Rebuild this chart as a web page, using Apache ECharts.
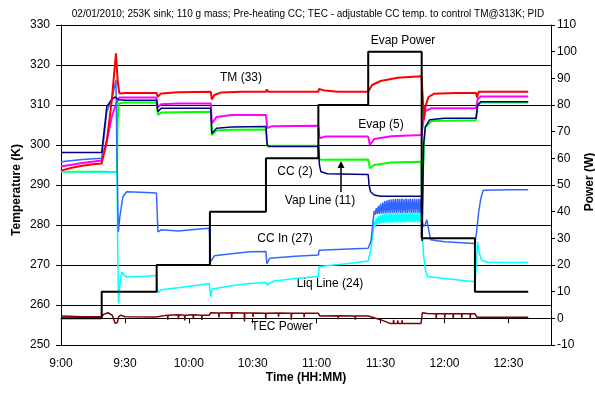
<!DOCTYPE html>
<html><head><meta charset="utf-8">
<script src="https://cdn.jsdelivr.net/npm/echarts@6/dist/echarts.min.js"></script>
<style>html,body{margin:0;padding:0;background:#fff}#c{width:595px;height:394px}</style>
</head><body><div id="c"></div>
<script>
// time in minutes after 9:00
const timeTickLabels = ['9:00','9:30','10:00','10:30','11:00','11:30','12:00','12:30'];

const evapPower = [[0,0],[19.1,10],[44.9,20],[69.9,40],[96.2,60],[120.8,80],[144.2,100],[169.3,30],[194.3,10],[219.3,10]];

const tmData = [[0,293.6],[5,294.3],[10,294.8],[15,295.2],[19.1,295.4],[21.5,301],[23.8,311],[25.8,322.9],[26.6,316],[27.4,312.9],[30,313],[44.8,313],[45.5,312.1],[47,312.9],[55,313.2],[70.3,313.3],[70.8,311.4],[72,312.5],[75,313.1],[85,313.3],[96.2,313.3],[96.6,313.9],[97.2,313.3],[110,313.3],[120.8,313.3],[121.1,314],[124,313.6],[130,313.3],[144.2,313.3],[146,315],[150,316],[158,316.8],[169.2,317.2],[169.8,312],[170.3,306.3],[171,309.5],[172.5,312],[175,312.8],[185,313],[194.8,313],[195.3,311.9],[196,313.3],[205,313.3],[219.3,313.3]];

const evapData = [[0,294.6],[10,295.5],[19.1,296.1],[21.5,301],[23.8,307],[26,310.5],[27.4,311.9],[30,311.9],[44.8,311.9],[45.5,309.4],[47,310.2],[55,310.4],[70.3,310.4],[70.8,305.4],[73,307],[80,307.5],[96.2,307.5],[96.8,304.2],[99,304.7],[120.8,304.8],[121.3,301.7],[124,302.1],[144.2,302.1],[145,300],[147,301.5],[155,302.2],[169.2,302.5],[170.1,306],[171,308.5],[174,309.2],[194.8,309.2],[195.6,311.5],[197,312.1],[219.3,312.1]];

const vapData = [[0,298.1],[19.1,298.1],[21.5,309.6],[23.8,311.4],[25.5,312],[27,311.3],[30,311.2],[44.8,311.2],[45.5,308.3],[47,309.2],[70.3,309.2],[70.8,302.9],[73,304.2],[80,304.5],[96.2,304.6],[96.8,300],[98,299.6],[120.8,299.6],[121.3,295],[122,293.3],[125,292.8],[144.2,292.6],[144.6,290],[145.3,288.3],[147,287.5],[150,287.2],[169.2,287.2],[169.5,276],[170.2,300],[171,304.5],[173,306.3],[180,306.7],[194.8,306.7],[195.6,310],[197,310.8],[219.3,310.8]];

const ccData = [[0,293.3],[10,293.3],[20,293.3],[26.3,293.2],[26.5,305],[27,310.4],[30,310.6],[44.8,310.6],[45.5,307.5],[47,308.1],[70.3,308.3],[70.8,302.5],[73,303.6],[80,303.8],[96.2,303.9],[96.8,299.6],[99,299.8],[120.8,299.8],[121.3,296.4],[124,296.3],[144.2,296.4],[145,294.2],[147,295],[155,295.6],[169.2,295.8],[169.5,285],[170.3,300],[171,304.5],[174,306],[194.8,306.2],[195.6,310],[197,310.6],[219.3,310.6]];

const ccInData = [[0,295.8],[10,296.4],[19.1,296.7],[21.5,308.3],[23.8,311.3],[25.8,316.2],[26.2,300],[26.9,278.3],[27.6,282],[29,287],[30.8,288.3],[40,288.1],[44.8,288],[45.5,278.3],[47,278.8],[55,278.5],[65,279],[69.6,279.2],[70.2,270.8],[72,272.3],[80,272.8],[88.7,273.3],[96.2,273.4],[96.6,270.3],[98,271.7],[110,272.2],[120.8,272.5],[121.2,273.7],[135,274],[144.2,274.2],[145.5,276],[146.5,281],
[147,283.5],[147.5,282.6],[148,284.2],[148.5,282.7],[149,284.8],[149.5,282.8],[150,285.3],[150.5,282.8],[151,285.7],[151.5,282.9],[152,286],[152.5,282.9],[153,286.2],[153.5,283],[154,286.3],[154.5,283],[155,286.4],[155.5,283],[156,286.5],[156.5,283],[157,286.5],[157.5,283],[158,286.6],[158.5,283.1],[159,286.5],[159.5,283],[160,286.6],[160.5,283.1],[161,286.5],[161.5,283],[162,286.6],[162.5,283],[163,286.5],[163.5,283.1],[164,286.6],[164.5,283],[165,286.5],[165.5,283],[166,286.6],[166.5,283.1],[167,286.5],[167.5,283],[168,286.6],[168.5,283],[169,286.4],
[169.5,281],[170.2,279.6],[171,280.2],[171.7,281.3],[172.5,279],[173.5,276.3],[180,275.8],[194.3,275.4],[195,278],[196,283],[197,286.5],[198.2,288.7],[210,288.8],[219.3,288.8]];

const liqData = [[0,293.3],[26.3,293.2],[26.6,275],[27,260.4],[27.8,266],[28.5,268.3],[29.5,267.5],[31,267],[40,267.2],[44.8,267.4],[45.5,263],[47,263.8],[55,264.3],[65,265],[69.6,265.4],[70.2,262.1],[71,264],[80,264.8],[88.7,265.4],[96.2,265.6],[96.6,265],[100,266],[110,266.6],[120.8,267.1],[121.2,269.6],[135,270.4],[144.2,271],[145.5,274],[146.5,278.5],
[147,281],[147.5,279.5],[148,281.8],[148.5,280],[149,282.2],[149.5,280.3],[150,282.5],[150.5,280.4],[151,282.7],[151.5,280.5],[152,282.8],[152.5,280.5],[153,282.9],[153.5,280.6],[154,283],[154.5,280.6],[155,283],[155.5,280.6],[156,283],[156.5,280.7],[157,283],[157.5,280.6],[158,283.1],[158.5,280.7],[159,283],[159.5,280.6],[160,283.1],[160.5,280.7],[161,283],[161.5,280.6],[162,283.1],[162.5,280.7],[163,283],[163.5,280.6],[164,283.1],[164.5,280.7],[165,283],[165.5,280.6],[166,283.1],[166.5,280.7],[167,283],[167.5,280.6],[168,283.1],[168.5,280.7],[169,283],
[169.5,279],[169.9,275],[170.3,272.1],[171,269],[172,267.1],[180,266.6],[194.3,265.8],[195,270],[195.5,275.8],[196.3,273],[197.5,271.2],[200,270.7],[219.3,270.6]];

const tecData = [[0,0.9],[10,0.6],[19.1,0.6],[20,1.5],[22,2.1],[24,1.2],[25.5,-1.9],[26.5,-1.5],[27,0.5],[28,1.2],[30,0.6],[44.8,0.5],[45.5,1.2],[50,1.2],[50.1,-0.5],[50.3,1.2],[55,1.3],[55.1,-0.3],[55.3,1.3],[58,1.2],[58.1,-0.8],[58.3,1.2],[62,1.3],[62.1,0],[62.3,1.3],[66,1.2],[66.1,-0.6],[66.3,1.2],[69.6,1.2],[70.2,2.1],[74,2],[74.1,0.3],[74.3,2],[80,2.1],[80.1,-0.2],[80.3,2.1],[86,2],[86.1,-1.2],[86.3,2],[90,2],[90.1,0.5],[90.3,2],[96,1.9],[96.1,-0.3],[96.3,1.9],[102,2],[102.1,0.6],[102.3,2],[108,1.9],[108.1,-0.5],[108.3,1.9],[114,1.9],[114.1,0.4],[114.3,1.9],[120.8,1.9],[121.5,0.9],[130,1],[130.1,-0.3],[130.3,1],[138,0.9],[138.1,-0.5],[138.3,0.9],[144.2,0.9],[150,-0.5],[154.4,-1.9],[156,-1.9],[156.1,-0.6],[156.3,-1.9],[158,-1.9],[158.1,-0.8],[158.3,-1.9],[160,-1.9],[160.1,-0.7],[160.3,-1.9],[169,-1.9],[169.6,2.1],[172,1.8],[176,1.7],[176.1,0],[176.3,1.7],[180,1.7],[180.1,0.2],[180.3,1.7],[184,1.7],[184.1,0],[184.3,1.7],[188,1.7],[188.1,0.2],[188.3,1.7],[192,1.7],[192.1,0.1],[192.3,1.7],[194.3,1.7],[195.3,0.4],[205,0.4],[219.3,0.4]];

const FONT = 'Liberation Sans';
const chart = echarts.init(document.getElementById('c'), null, {renderer:'canvas'});

function line(name, data, color, width, yIdx, step) {
  return {name, type:'line', data, yAxisIndex:yIdx, showSymbol:false, symbol:'none',
    step: step || false, lineStyle:{color, width}, itemStyle:{color}, animation:false, silent:true};
}

const txt = (x, y, s, opt) => Object.assign({type:'text', x, y, style:{text:s, font:'12px "'+FONT+'"', fill:'#000', align:'center', verticalAlign:'middle'}}, opt||{});

chart.setOption({
  animation:false,
  grid:{left:61, right:44, top:25, bottom:49, containLabel:false},
  xAxis:{type:'value', min:0, max:230, interval:30,
    axisLine:{lineStyle:{color:'#000', width:1}},
    axisTick:{show:true, length:5, lineStyle:{color:'#000'}},
    axisLabel:{color:'#000', fontFamily:FONT, fontSize:12, margin:13,
      formatter:v => timeTickLabels[Math.round(v/30)] !== undefined && v%30===0 ? timeTickLabels[v/30] : ''},
    splitLine:{show:false}},
  yAxis:[
    {type:'value', min:250, max:330, interval:10, position:'left',
      axisLine:{show:true, lineStyle:{color:'#000', width:1}},
      axisTick:{show:true, length:5, lineStyle:{color:'#000'}},
      axisLabel:{color:'#000', fontFamily:FONT, fontSize:12, margin:11},
      splitLine:{show:true, lineStyle:{color:'#000', width:1}}},
    {type:'value', min:-10, max:110, interval:10, position:'right',
      axisLine:{show:true, lineStyle:{color:'#000', width:1}},
      axisTick:{show:true, length:4, lineStyle:{color:'#000'}},
      axisLabel:{color:'#000', fontFamily:FONT, fontSize:12, margin:6},
      splitLine:{show:false}}
  ],
  series:[
    line('TEC Power', tecData, '#800000', 1.5, 1),
    line('CC (2)', ccData, '#00FF00', 2, 0),
    line('Evap (5)', evapData, '#FF00FF', 2, 0),
    line('Liq Line (24)', liqData, '#00FFFF', 1.5, 0),
    line('CC In (27)', ccInData, '#3366FF', 1.5, 0),
    line('Vap Line (11)', vapData, '#000080', 1.5, 0),
    line('TM (33)', tmData, '#FF0000', 2, 0),
    line('Evap Power', evapPower, '#000000', 2, 1, 'end')
  ],
  graphic:[
    txt(308, 14, '02/01/2010; 253K sink; 110 g mass; Pre-heating CC; TEC - adjustable CC temp. to control TM@313K; PID', {style:{text:'02/01/2010; 253K sink; 110 g mass; Pre-heating CC; TEC - adjustable CC temp. to control TM@313K; PID', font:'10px "'+FONT+'"', fill:'#000', align:'center', verticalAlign:'middle'}}),
    txt(403, 41, 'Evap Power'),
    txt(241, 78, 'TM (33)'),
    txt(381, 125, 'Evap (5)'),
    txt(295, 172, 'CC (2)'),
    txt(320, 201, 'Vap Line (11)'),
    txt(285, 239, 'CC In (27)'),
    txt(330, 284, 'Liq Line (24)'),
    txt(282, 327, 'TEC Power'),
    {type:'line', shape:{x1:341, y1:192, x2:341, y2:166}, style:{stroke:'#000', lineWidth:1.5}},
    {type:'polygon', shape:{points:[[341,161],[337.5,168],[344.5,168]]}, style:{fill:'#000'}},
    {type:'text', x:17, y:190, rotation:Math.PI/2, style:{text:'Temperature (K)', font:'bold 12px "'+FONT+'"', fill:'#000', align:'center', verticalAlign:'middle'}},
    {type:'text', x:590, y:182, rotation:Math.PI/2, style:{text:'Power (W)', font:'bold 12px "'+FONT+'"', fill:'#000', align:'center', verticalAlign:'middle'}},
    {type:'text', x:306, y:378, style:{text:'Time (HH:MM)', font:'bold 12px "'+FONT+'"', fill:'#000', align:'center', verticalAlign:'middle'}}
  ]
});
</script></body></html>
